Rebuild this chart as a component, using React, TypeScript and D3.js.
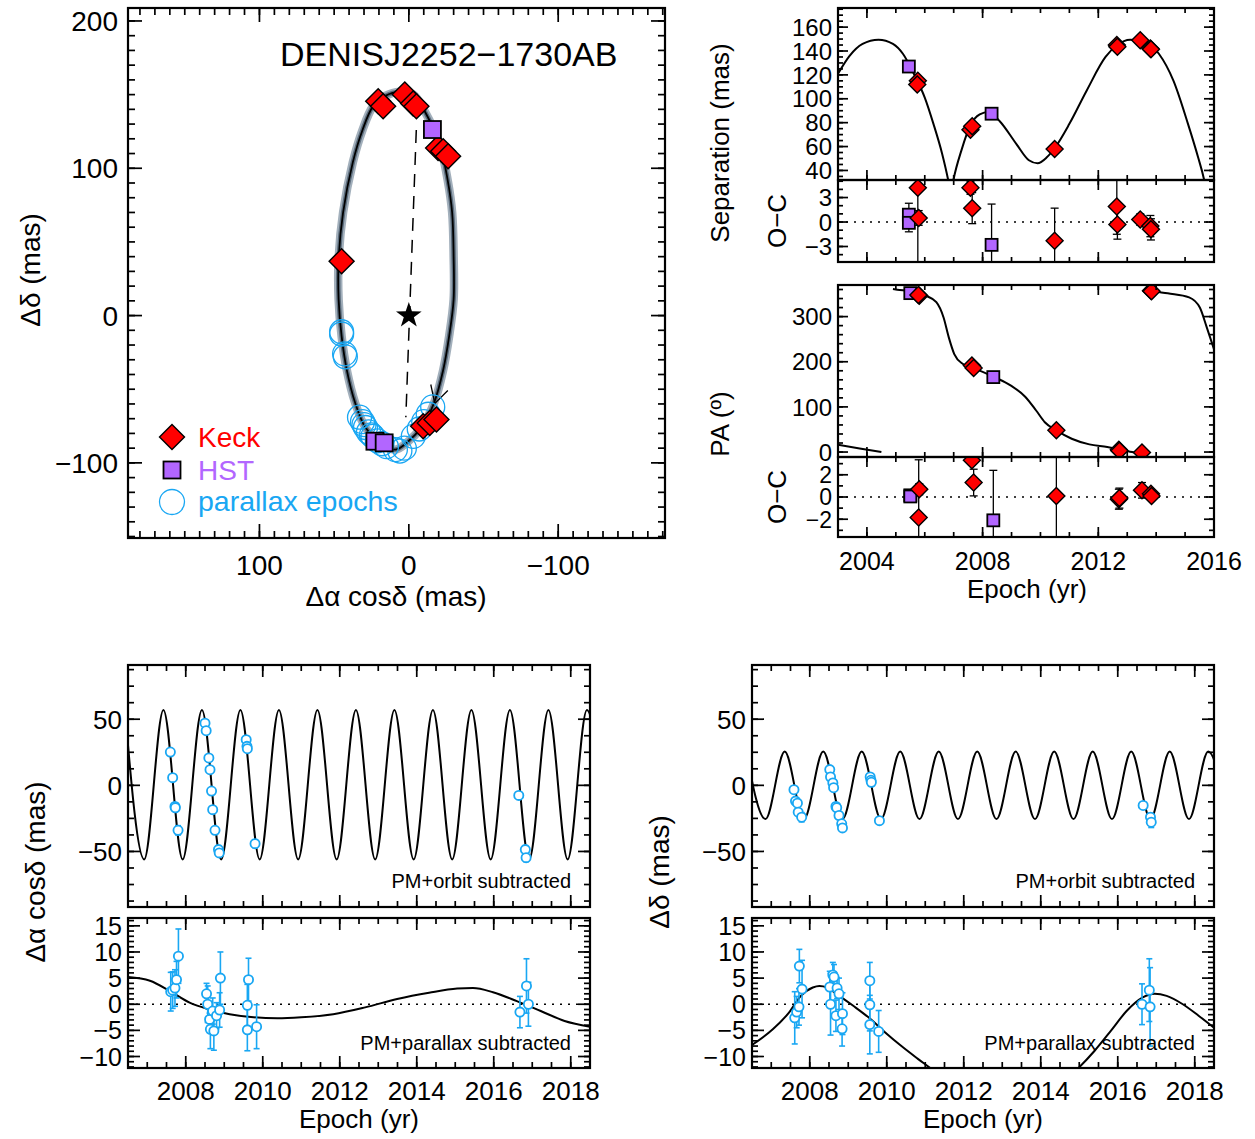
import React from 'react';
import * as d3 from 'd3';

type P2 = [number, number];
type P3 = [number, number, number];

const FONT = '"Liberation Sans", Arial, Helvetica, sans-serif';
const RED = '#ff0000';
const PURPLE = '#b266ff';
const BLUE = '#19a7f3';

// ---------------- Relative orbit (top-left) ----------------
const objectName = 'DENISJ2252\u22121730AB';
const orbitXTickLabels = [100, 0, -100];
const orbitYTickLabels = [200, 100, 0, -100];
const orbitModel: P2[] = [
  [6, 152], [-3, 150], [-11, 138], [-21, 115], [-26, 92], [-29, 70], [-30, 40], [-30, 11],
  [-27, -14], [-23, -37], [-17, -59], [-9, -75], [1, -86], [9, -91], [18, -87], [29, -76],
  [36, -59], [41.5, -37], [45, -14], [47, 11], [47, 38], [44, 70], [37.5, 104], [31, 126],
  [24, 142], [16, 149],
];
const keckOrbit: P2[] = [
  [20.5, 145.5], [17.2, 142.1], [2.7, 150], [-2.9, 143.9], [-5.1, 142.1],
  [-19.6, 113.8], [-23, 111.5], [-26.3, 108.1], [45, 36.9],
  [-9.6, -75.1], [-14, -72.9], [-18.5, -70.6],
];
const hstOrbit: P2[] = [[-15.8, 126.3], [22.7, -85.3], [16.5, -86.4]];
const parallaxOrbit: P2[] = [
  [45, -11], [45, -12.5], [43, -26], [42.5, -28],
  [-16, -62], [-13, -67], [-10, -72], [-7, -77], [-3, -82],
  [33, -69], [31, -72], [30, -74], [29, -76], [27, -79], [25, -81], [24, -82], [21, -85], [18, -87], [15, -89],
  [9, -91], [6, -92], [3, -90],
];
const nodeLine: P2[] = [[-5, 126], [2, -69]];
const arrowHead: P2[] = [[-14.7, -46.8], [-17.4, -59.7], [-26.1, -50.9]];
const legendLabels = ['Keck', 'HST', 'parallax epochs'];

// ---------------- Separation / PA (top-right) ----------------
const epochTicksTop = [2004, 2008, 2012, 2016];
const sepTickLabels = [40, 60, 80, 100, 120, 140, 160];
const sepOCTickLabels = [-3, 0, 3];
const paTickLabels = [0, 100, 200, 300];
const paOCTickLabels = [-2, 0, 2];

const sepModel: P2[] = [
  [2003.0, 121], [2003.4, 136], [2003.85, 146], [2004.4, 149.5], [2004.9, 146], [2005.25, 137.5],
  [2005.6, 122], [2006.0, 101], [2006.3, 79], [2006.6, 54], [2006.8, 33], [2006.9, 20], [2007.0, 33],
  [2007.27, 57], [2007.58, 78], [2007.9, 87], [2008.2, 89], [2008.6, 81], [2009.17, 62], [2009.6, 48.5],
  [2009.9, 46], [2010.22, 51], [2010.5, 59], [2011.0, 79], [2011.6, 107], [2012.25, 135], [2012.65, 145],
  [2013.1, 149.5], [2013.5, 148.5], [2014.1, 137.5], [2014.6, 115], [2015.1, 79], [2015.45, 51],
  [2015.65, 33], [2015.75, 20],
];
const keckSep: P2[] = [
  [2005.76, 115], [2005.74, 112], [2007.58, 74], [2007.64, 77], [2010.49, 58],
  [2012.64, 145], [2012.66, 143.5], [2013.45, 149], [2013.8, 142], [2013.82, 141.5],
];
const hstSep: P2[] = [[2005.45, 127], [2008.31, 87.5]];
const keckSepOC: P3[] = [
  [2005.76, 4.2, 10], [2005.79, 0.5, 0.9], [2007.58, 4.2, 0.8], [2007.64, 1.7, 1.9],
  [2010.49, -2.3, 4], [2012.64, 1.9, 3.4], [2012.66, -0.3, 1.8], [2013.45, 0.3, 0.7],
  [2013.8, -0.5, 1.3], [2013.82, -0.9, 1.3],
];
const hstSepOC: P3[] = [[2005.45, 0.9, 1.4], [2005.45, -0.1, 1.1], [2008.31, -2.8, 5]];

const paModelSegments: P2[][] = [
  [[2003.0, 16], [2003.75, 8], [2004.5, 0]],
  [
    [2004.9, 361], [2005.05, 359.6], [2005.54, 356], [2006.03, 346.5], [2006.4, 332], [2006.65, 298],
    [2006.83, 254], [2007.02, 217], [2007.32, 195], [2007.69, 186], [2008.37, 167], [2008.98, 147],
    [2009.48, 122], [2009.85, 92], [2010.15, 66], [2010.55, 48], [2011.08, 29.5], [2011.69, 17],
    [2012.31, 11], [2012.71, 6], [2013.17, 0], [2013.45, -4], [2013.6, -8],
  ],
  [[2013.6, 361], [2013.82, 357.5], [2014.4, 351.5], [2015.14, 342.7], [2015.51, 320], [2015.75, 276], [2016.02, 224]],
];
const keckPA: P2[] = [
  [2005.81, 346], [2005.78, 348], [2007.63, 191.6], [2007.69, 186.4], [2010.55, 48],
  [2012.71, 5], [2012.73, 3], [2013.51, -1], [2013.82, 357.4], [2013.84, 356],
];
const hstPA: P2[] = [[2005.5, 352], [2008.37, 166]];
const keckPAOC: P3[] = [
  [2005.81, 0.7, 0.5], [2005.79, -1.85, 5.2], [2007.63, 3.3, 0.4], [2007.69, 1.3, 1.2],
  [2010.55, 0.1, 5], [2012.71, -0.2, 0.9], [2012.73, -0.1, 0.9], [2013.51, 0.6, 0.7],
  [2013.82, 0.3, 0.3], [2013.84, 0.1, 0.3],
];
const hstPAOC: P3[] = [[2005.5, 0.15, 0.3], [2005.5, 0.05, 0.3], [2008.37, -2.1, 4.5]];

// ---------------- Astrometry (bottom) ----------------
const epochTicksBottom = [2008, 2010, 2012, 2014, 2016, 2018];
const upperTickLabels = [-50, 0, 50];
const lowerTickLabels = [-10, -5, 0, 5, 10, 15];
const upperNote = 'PM+orbit subtracted';
const lowerNote = 'PM+parallax subtracted';

const raParallaxModel: P2[] = [
  [2006.42, 57], [2006.92, -56], [2007.42, 57], [2007.92, -56], [2008.42, 57], [2008.92, -56],
  [2009.42, 57], [2009.92, -56], [2010.42, 57], [2010.92, -56], [2011.42, 57], [2011.92, -56],
  [2012.42, 57], [2012.92, -56], [2013.42, 57], [2013.92, -56], [2014.42, 57], [2014.92, -56],
  [2015.42, 57], [2015.92, -56], [2016.42, 57], [2016.92, -56], [2017.42, 57], [2017.92, -56],
  [2018.42, 57], [2018.92, -56],
];
const raParallaxData: P3[] = [
  [2007.6, 25.2, 2], [2007.66, 5.8, 2], [2007.72, -16, 2], [2007.73, -17, 2], [2007.8, -34, 3.5],
  [2008.5, 47, 2], [2008.53, 41.3, 2], [2008.6, 20.7, 2], [2008.63, 11.8, 2], [2008.67, -4.3, 2],
  [2008.7, -18.4, 2.5], [2008.76, -34, 2], [2008.85, -48.6, 3], [2008.87, -51.1, 2],
  [2009.57, 34.5, 2.5], [2009.59, 29.5, 2], [2009.6, 27.7, 2], [2009.8, -44.1, 3],
  [2016.65, -7.6, 2], [2016.82, -48.6, 3], [2016.84, -54.7, 3],
];
const raOrbitModel: P2[] = [
  [2006.5, 5.2], [2007.07, 4.5], [2007.59, 2.5], [2008.1, 0.3], [2008.62, -1], [2009.14, -1.9],
  [2009.76, -2.5], [2010.38, -2.7], [2011.0, -2.5], [2011.83, -1.9], [2012.66, -0.6], [2013.49, 1.0],
  [2014.32, 2.2], [2015.05, 3.0], [2015.46, 3.1], [2015.98, 2.3], [2016.6, 0.6], [2017.22, -1.3],
  [2017.84, -3.2], [2018.5, -4.3],
];
const raOrbitData: P3[] = [
  [2007.61, 2.4, 3.7], [2007.66, 2.7, 3.5], [2007.72, 3.1, 3.5], [2007.76, 4.7, 3.5], [2007.81, 9.2, 5.2],
  [2008.54, 2.0, 2.0], [2008.57, 0, 3.5], [2008.62, -2.9, 1.2], [2008.64, -4.8, 3.7], [2008.7, -1.3, 2.5],
  [2008.73, -5.1, 3.7], [2008.8, -2.2, 2.5], [2008.88, -1.1, 3.3], [2008.9, 5.0, 5.0],
  [2009.6, -0.2, 4], [2009.63, 4.7, 4.1], [2009.6, -4.9, 4], [2009.84, -4.3, 4.2],
  [2016.68, -1.5, 3.0], [2016.85, 3.5, 5.2], [2016.9, 0, 4.2],
];
const decParallaxModel: P2[] = [
  [2006.35, 25.5], [2006.85, -25.5], [2007.35, 25.5], [2007.85, -25.5], [2008.35, 25.5], [2008.85, -25.5],
  [2009.35, 25.5], [2009.85, -25.5], [2010.35, 25.5], [2010.85, -25.5], [2011.35, 25.5], [2011.85, -25.5],
  [2012.35, 25.5], [2012.85, -25.5], [2013.35, 25.5], [2013.85, -25.5], [2014.35, 25.5], [2014.85, -25.5],
  [2015.35, 25.5], [2015.85, -25.5], [2016.35, 25.5], [2016.85, -25.5], [2017.35, 25.5], [2017.85, -25.5],
  [2018.35, 25.5], [2018.85, -25.5],
];
const decParallaxData: P3[] = [
  [2007.59, -3.3, 2], [2007.63, -11.9, 2], [2007.68, -13.5, 2], [2007.7, -20.3, 2], [2007.79, -24.1, 3.5],
  [2008.52, 11.9, 2], [2008.54, 6.3, 2], [2008.6, 1.8, 2], [2008.62, -1.8, 2], [2008.68, -16, 2],
  [2008.7, -17, 2], [2008.76, -22.8, 2], [2008.83, -29.1, 2], [2008.85, -32.2, 2],
  [2009.57, 6.3, 2], [2009.59, 3.8, 2], [2009.6, 2.3, 3], [2009.81, -26.7, 2.5],
  [2016.66, -15.2, 2.5], [2016.85, -24.1, 3], [2016.87, -27.9, 4],
];
const decOrbitModel: P2[] = [
  [2006.5, -7.8], [2007.04, -4.8], [2007.46, -1.6], [2007.77, 1.6], [2008.08, 3.2], [2008.25, 3.5],
  [2008.45, 3.2], [2008.71, 1.9], [2009.13, -0.3], [2009.54, -2.6], [2009.96, -5.4], [2010.38, -8],
  [2010.8, -10.4], [2011.2, -12.6], [2012.2, -19], [2013.1, -20.5], [2014.1, -18], [2014.9, -12.8],
  [2015.4, -8.9], [2015.82, -5.1], [2016.23, -1.3], [2016.65, 1.3], [2016.96, 2.0], [2017.27, 1.6],
  [2017.69, 0], [2018.1, -2.2], [2018.5, -4.5],
];
const decOrbitData: P3[] = [
  [2007.61, -2.6, 5], [2007.66, -1.5, 3], [2007.72, -0.5, 3.5], [2007.73, 7.3, 3.2], [2007.8, 2.9, 5.5],
  [2008.52, 3.3, 3], [2008.54, 0, 5.9], [2008.6, 5.6, 2.4], [2008.63, 5.2, 2.4], [2008.68, -2.2, 3],
  [2008.71, 3.1, 2], [2008.76, 2.0, 3], [2008.85, -1.8, 4], [2008.84, -4.7, 3.3],
  [2009.56, 4.5, 3.5], [2009.56, -0.1, 5], [2009.56, -3.9, 5.6], [2009.79, -5.2, 4],
  [2016.63, 0, 3.9], [2016.82, 2.7, 6], [2016.84, -0.5, 7.5],
];

// ---------------- helpers ----------------
type Lin = d3.ScaleLinear<number, number>;

function multiples(domain: number[], step: number): number[] {
  const lo = Math.min(domain[0], domain[1]);
  const hi = Math.max(domain[0], domain[1]);
  const out: number[] = [];
  for (let k = Math.ceil(lo / step - 1e-9); k * step <= hi + 1e-9; k++) out.push(+(k * step).toFixed(6));
  return out;
}
const fmt = (v: number) => (v < 0 ? '\u2212' + Math.abs(v) : String(v));

function Axes({ xs, ys, xMaj, xMin, yMaj, yMin, maj, min }: {
  xs: Lin; ys: Lin; xMaj: number; xMin: number; yMaj: number; yMin: number; maj: number; min: number;
}) {
  const [xa, xb] = xs.range();
  const [ya, yb] = ys.range();
  const left = Math.min(xa, xb), right = Math.max(xa, xb);
  const top = Math.min(ya, yb), bottom = Math.max(ya, yb);
  const lines: JSX.Element[] = [];
  const addX = (vals: number[], len: number, tag: string) =>
    vals.forEach((v, i) => {
      const p = xs(v);
      lines.push(<line key={`x${tag}${i}b`} x1={p} x2={p} y1={bottom} y2={bottom - len} />);
      lines.push(<line key={`x${tag}${i}t`} x1={p} x2={p} y1={top} y2={top + len} />);
    });
  const addY = (vals: number[], len: number, tag: string) =>
    vals.forEach((v, i) => {
      const p = ys(v);
      lines.push(<line key={`y${tag}${i}l`} x1={left} x2={left + len} y1={p} y2={p} />);
      lines.push(<line key={`y${tag}${i}r`} x1={right} x2={right - len} y1={p} y2={p} />);
    });
  addX(multiples(xs.domain(), xMin), min, 'n');
  addX(multiples(xs.domain(), xMaj), maj, 'j');
  addY(multiples(ys.domain(), yMin), min, 'n');
  addY(multiples(ys.domain(), yMaj), maj, 'j');
  return (
    <g stroke="#000" fill="none" strokeWidth={1.7}>
      {lines}
      <rect x={left} y={top} width={right - left} height={bottom - top} strokeWidth={2.2} />
    </g>
  );
}

function ClipRect({ id, xs, ys }: { id: string; xs: Lin; ys: Lin }) {
  const [xa, xb] = xs.range();
  const [ya, yb] = ys.range();
  return (
    <clipPath id={id}>
      <rect x={Math.min(xa, xb)} y={Math.min(ya, yb)} width={Math.abs(xb - xa)} height={Math.abs(yb - ya)} />
    </clipPath>
  );
}

const diamondPath = (cx: number, cy: number, r: number) =>
  `M${cx},${cy - r}L${cx + r},${cy}L${cx},${cy + r}L${cx - r},${cy}Z`;

function Diamond({ cx, cy, r }: { cx: number; cy: number; r: number }) {
  return <path d={diamondPath(cx, cy, r)} fill={RED} stroke="#000" strokeWidth={1.4} />;
}
function Square({ cx, cy, s }: { cx: number; cy: number; s: number }) {
  return <rect x={cx - s / 2} y={cy - s / 2} width={s} height={s} fill={PURPLE} stroke="#000" strokeWidth={1.8} />;
}

function YLabels({ ys, values, x, size }: { ys: Lin; values: number[]; x: number; size: number }) {
  return (
    <g fontSize={size} textAnchor="end">
      {values.map((v) => (
        <text key={v} x={x} y={ys(v)} dy="0.36em">{fmt(v)}</text>
      ))}
    </g>
  );
}
function XLabels({ xs, values, y, size }: { xs: Lin; values: number[]; y: number; size: number }) {
  return (
    <g fontSize={size} textAnchor="middle">
      {values.map((v) => (
        <text key={v} x={xs(v)} y={y}>{fmt(v)}</text>
      ))}
    </g>
  );
}
function VTitle({ x, y, size, children }: { x: number; y: number; size: number; children: React.ReactNode }) {
  return (
    <text transform={`translate(${x},${y}) rotate(-90)`} textAnchor="middle" fontSize={size}>{children}</text>
  );
}

function ErrBars({ xs, ys, data, color, cap, width }: { xs: Lin; ys: Lin; data: P3[]; color: string; cap: number; width: number }) {
  return (
    <g stroke={color} strokeWidth={width} fill="none">
      {data.map(([t, v, e], i) => {
        const x = xs(t), y1 = ys(v - e), y2 = ys(v + e);
        return (
          <g key={i}>
            <line x1={x} x2={x} y1={y1} y2={y2} />
            <line x1={x - cap} x2={x + cap} y1={y1} y2={y1} />
            <line x1={x - cap} x2={x + cap} y1={y2} y2={y2} />
          </g>
        );
      })}
    </g>
  );
}

function ZeroLine({ xs, ys }: { xs: Lin; ys: Lin }) {
  const [xa, xb] = xs.range();
  return <line x1={xa} x2={xb} y1={ys(0)} y2={ys(0)} stroke="#000" strokeWidth={1.6} strokeDasharray="2 6" />;
}

function starPath(cx: number, cy: number, R: number, r: number) {
  const pts: string[] = [];
  for (let k = 0; k < 10; k++) {
    const a = -Math.PI / 2 + (k * Math.PI) / 5;
    const rad = k % 2 === 0 ? R : r;
    pts.push(`${cx + rad * Math.cos(a)},${cy + rad * Math.sin(a)}`);
  }
  return 'M' + pts.join('L') + 'Z';
}

export default function App() {
  // scales
  const ox = d3.scaleLinear().domain([188, -171.5]).range([128, 665]);
  const oy = d3.scaleLinear().domain([208.8, -151]).range([8, 538]);

  const tx = d3.scaleLinear().domain([2003, 2016]).range([838, 1214]);
  const sepY = d3.scaleLinear().domain([32, 176]).range([180, 8]);
  const sepOCY = d3.scaleLinear().domain([-4.9, 5.15]).range([262, 180]);
  const paY = d3.scaleLinear().domain([-11, 370]).range([457, 285]);
  const paOCY = d3.scaleLinear().domain([-3.6, 3.6]).range([537, 457]);

  const blx = d3.scaleLinear().domain([2006.5, 2018.5]).range([128, 590]);
  const brx = d3.scaleLinear().domain([2006.5, 2018.5]).range([752, 1214]);
  const upY = d3.scaleLinear().domain([-92, 91]).range([907, 665]);
  const loY = d3.scaleLinear().domain([-12.2, 16.5]).range([1068, 918]);

  const orbitLine = d3.line<P2>().x((d) => ox(d[0])).y((d) => oy(d[1])).curve(d3.curveCatmullRomClosed.alpha(0.5));
  const tsLine = (xs: Lin, ys: Lin) => d3.line<P2>().x((d) => xs(d[0])).y((d) => ys(d[1])).curve(d3.curveMonotoneX);

  const orbitD = orbitLine(orbitModel) || '';

  const bottomPanel = (
    key: string, xs: Lin, parModel: P2[], parData: P3[], orbModel: P2[], orbData: P3[],
    ylabelX: number,
  ) => {
    const right = xs.range()[1];
    return (
      <g key={key}>
        <defs>
          <ClipRect id={`${key}-u`} xs={xs} ys={upY} />
          <ClipRect id={`${key}-l`} xs={xs} ys={loY} />
        </defs>
        <g clipPath={`url(#${key}-u)`}>
          <path d={tsLine(xs, upY)(parModel) || ''} fill="none" stroke="#000" strokeWidth={2} />
          <ErrBars xs={xs} ys={upY} data={parData} color={BLUE} cap={3} width={1.6} />
          {parData.map(([t, v], i) => (
            <circle key={i} cx={xs(t)} cy={upY(v)} r={4.6} fill="#fff" stroke={BLUE} strokeWidth={1.8} />
          ))}
        </g>
        <Axes xs={xs} ys={upY} xMaj={2} xMin={0.5} yMaj={50} yMin={12.5} maj={12} min={6} />
        <YLabels ys={upY} values={upperTickLabels} x={ylabelX} size={26} />
        <text x={right - 19} y={888} textAnchor="end" fontSize={20}>{upperNote}</text>

        <g clipPath={`url(#${key}-l)`}>
          <ZeroLine xs={xs} ys={loY} />
          <path d={tsLine(xs, loY)(orbModel) || ''} fill="none" stroke="#000" strokeWidth={2} />
          <ErrBars xs={xs} ys={loY} data={orbData} color={BLUE} cap={3} width={1.6} />
          {orbData.map(([t, v], i) => (
            <circle key={i} cx={xs(t)} cy={loY(v)} r={4.6} fill="#fff" stroke={BLUE} strokeWidth={1.8} />
          ))}
        </g>
        <text x={right - 19} y={1050} textAnchor="end" fontSize={20}>{lowerNote}</text>
        <Axes xs={xs} ys={loY} xMaj={2} xMin={0.5} yMaj={5} yMin={1} maj={12} min={6} />
        <YLabels ys={loY} values={lowerTickLabels} x={ylabelX} size={25} />
        <XLabels xs={xs} values={epochTicksBottom} y={1100} size={26} />
        <text x={(xs.range()[0] + right) / 2} y={1128} textAnchor="middle" fontSize={26}>Epoch (yr)</text>
      </g>
    );
  };

  return (
    <svg
      width={1255}
      height={1139}
      viewBox="0 0 1255 1139"
      style={{ position: 'absolute', left: 0, top: 0, background: '#fff' }}
      fontFamily={FONT}
    >
      <rect width={1255} height={1139} fill="#fff" />
      <defs>
        <ClipRect id="c-orbit" xs={ox} ys={oy} />
        <ClipRect id="c-sep" xs={tx} ys={sepY} />
        <ClipRect id="c-sepoc" xs={tx} ys={sepOCY} />
        <ClipRect id="c-pa" xs={tx} ys={paY} />
        <ClipRect id="c-paoc" xs={tx} ys={paOCY} />
      </defs>

      {/* ---------- Orbit panel ---------- */}
      <g clipPath="url(#c-orbit)">
        <path d={orbitD} fill="none" stroke="#a3b0bc" strokeWidth={8.5} />
        <path d={orbitD} fill="none" stroke="#5d6e7e" strokeWidth={4.5} />
        <path d={orbitD} fill="none" stroke="#000" strokeWidth={1.8} />
        <line
          x1={ox(nodeLine[0][0])} y1={oy(nodeLine[0][1])} x2={ox(nodeLine[1][0])} y2={oy(nodeLine[1][1])}
          stroke="#000" strokeWidth={1.5} strokeDasharray="13 9"
        />
        <path d={starPath(ox(0), oy(0), 13.5, 5.3)} fill="#000" />
        <polyline
          points={arrowHead.map((p) => `${ox(p[0])},${oy(p[1])}`).join(' ')}
          fill="none" stroke="#000" strokeWidth={1.3}
        />
        {parallaxOrbit.map((p, i) => (
          <circle key={i} cx={ox(p[0])} cy={oy(p[1])} r={12} fill="none" stroke={BLUE} strokeWidth={1.3} />
        ))}
        {keckOrbit.map((p, i) => (
          <Diamond key={i} cx={ox(p[0])} cy={oy(p[1])} r={12.5} />
        ))}
        {hstOrbit.map((p, i) => (
          <Square key={i} cx={ox(p[0])} cy={oy(p[1])} s={17} />
        ))}
      </g>
      <Axes xs={ox} ys={oy} xMaj={100} xMin={10} yMaj={100} yMin={10} maj={14} min={7} />
      <text x={280} y={66} fontSize={34}>{objectName}</text>
      <YLabels ys={oy} values={orbitYTickLabels} x={118} size={28} />
      <XLabels xs={ox} values={orbitXTickLabels} y={575} size={28} />
      <text x={396} y={606} textAnchor="middle" fontSize={28}>{'\u0394\u03b1 cos\u03b4 (mas)'}</text>
      <VTitle x={40} y={270} size={28}>{'\u0394\u03b4 (mas)'}</VTitle>

      {/* legend */}
      <g>
        <path d={diamondPath(172, 437, 12.5)} fill={RED} stroke="#000" strokeWidth={1.4} />
        <rect x={172 - 8.5} y={470 - 8.5} width={17} height={17} fill={PURPLE} stroke="#000" strokeWidth={1.8} />
        <circle cx={172} cy={502} r={12.5} fill="none" stroke={BLUE} strokeWidth={1.3} />
        <text x={198} y={447} fontSize={28} fill={RED}>{legendLabels[0]}</text>
        <text x={198} y={480} fontSize={28} fill={PURPLE}>{legendLabels[1]}</text>
        <text x={198} y={511} fontSize={28.5} fill={BLUE}>{legendLabels[2]}</text>
      </g>

      {/* ---------- Separation panel ---------- */}
      <g clipPath="url(#c-sep)">
        <path d={tsLine(tx, sepY)(sepModel) || ''} fill="none" stroke="#000" strokeWidth={2} />
        {hstSep.map(([t, v], i) => <Square key={i} cx={tx(t)} cy={sepY(v)} s={12} />)}
        {keckSep.map(([t, v], i) => <Diamond key={i} cx={tx(t)} cy={sepY(v)} r={8.5} />)}
      </g>
      <Axes xs={tx} ys={sepY} xMaj={4} xMin={1} yMaj={20} yMin={5} maj={10} min={5} />
      <YLabels ys={sepY} values={sepTickLabels} x={832} size={24} />

      <g clipPath="url(#c-sepoc)">
        <ZeroLine xs={tx} ys={sepOCY} />
        <ErrBars xs={tx} ys={sepOCY} data={[...hstSepOC, ...keckSepOC]} color="#000" cap={4} width={1.3} />
        {hstSepOC.map(([t, v], i) => <Square key={i} cx={tx(t)} cy={sepOCY(v)} s={12} />)}
        {keckSepOC.map(([t, v], i) => <Diamond key={i} cx={tx(t)} cy={sepOCY(v)} r={8.5} />)}
      </g>
      <Axes xs={tx} ys={sepOCY} xMaj={4} xMin={1} yMaj={3} yMin={1} maj={10} min={5} />
      <YLabels ys={sepOCY} values={sepOCTickLabels} x={832} size={24} />
      <VTitle x={729} y={143} size={26}>Separation (mas)</VTitle>
      <VTitle x={786} y={221} size={26}>{'O\u2212C'}</VTitle>

      {/* ---------- PA panel ---------- */}
      <g clipPath="url(#c-pa)">
        {paModelSegments.map((seg, i) => (
          <path key={i} d={tsLine(tx, paY)(seg) || ''} fill="none" stroke="#000" strokeWidth={2} />
        ))}
        {hstPA.map(([t, v], i) => <Square key={i} cx={tx(t)} cy={paY(v)} s={12} />)}
        {keckPA.map(([t, v], i) => <Diamond key={i} cx={tx(t)} cy={paY(v)} r={8.5} />)}
      </g>
      <Axes xs={tx} ys={paY} xMaj={4} xMin={1} yMaj={100} yMin={20} maj={10} min={5} />
      <YLabels ys={paY} values={paTickLabels} x={832} size={24} />

      <g clipPath="url(#c-paoc)">
        <ZeroLine xs={tx} ys={paOCY} />
        <ErrBars xs={tx} ys={paOCY} data={[...hstPAOC, ...keckPAOC]} color="#000" cap={4} width={1.3} />
        {hstPAOC.map(([t, v], i) => <Square key={i} cx={tx(t)} cy={paOCY(v)} s={12} />)}
        {keckPAOC.map(([t, v], i) => <Diamond key={i} cx={tx(t)} cy={paOCY(v)} r={8.5} />)}
      </g>
      <Axes xs={tx} ys={paOCY} xMaj={4} xMin={1} yMaj={2} yMin={1} maj={10} min={5} />
      <YLabels ys={paOCY} values={paOCTickLabels} x={832} size={23} />
      <XLabels xs={tx} values={epochTicksTop} y={570} size={25} />
      <text x={1027} y={598} textAnchor="middle" fontSize={26}>Epoch (yr)</text>
      <VTitle x={729} y={424} size={26}>{'PA (\u00ba)'}</VTitle>
      <VTitle x={786} y={497} size={26}>{'O\u2212C'}</VTitle>

      {/* ---------- Bottom panels ---------- */}
      {bottomPanel('bl', blx, raParallaxModel, raParallaxData, raOrbitModel, raOrbitData, 122)}
      {bottomPanel('br', brx, decParallaxModel, decParallaxData, decOrbitModel, decOrbitData, 746)}
      <VTitle x={45} y={872} size={28}>{'\u0394\u03b1 cos\u03b4 (mas)'}</VTitle>
      <VTitle x={669} y={872} size={28}>{'\u0394\u03b4 (mas)'}</VTitle>
    </svg>
  );
}
